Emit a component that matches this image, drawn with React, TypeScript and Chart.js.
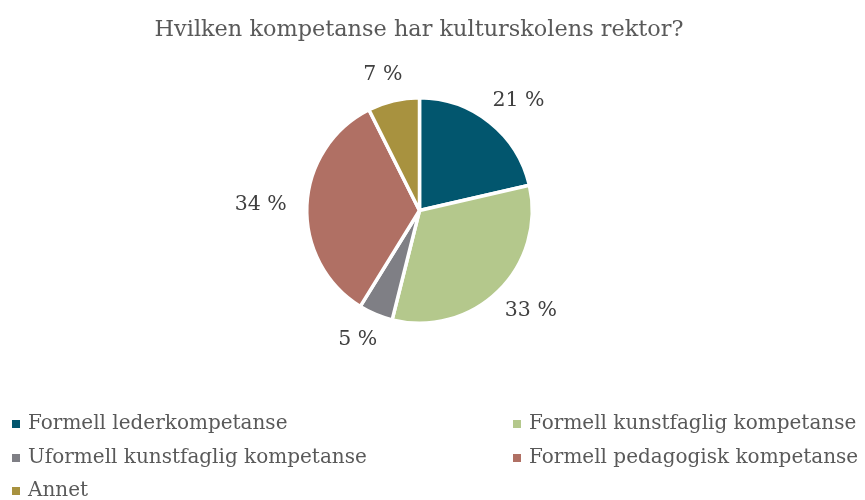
import React, { useEffect, useRef } from "react";
import { Chart, registerables } from "chart.js";

Chart.register(...registerables);

const title = "Hvilken kompetanse har kulturskolens rektor?";
const categories = [
  "Formell lederkompetanse",
  "Formell kunstfaglig kompetanse",
  "Uformell kunstfaglig kompetanse",
  "Formell pedagogisk kompetanse",
  "Annet",
];
const values = [21.4, 32.5, 4.9, 33.8, 7.4];
const colors = ["#02566E", "#B4C88C", "#7F7F85", "#B07064", "#A8923F"];

const FONT = "'DejaVu Serif', serif";

const overlayPlugin = {
  id: "overlay",
  afterDraw(chart: any) {
    const ctx = chart.ctx as CanvasRenderingContext2D;
    ctx.save();
    // title
    ctx.fillStyle = "#595959";
    ctx.font = `22.4px ${FONT}`;
    ctx.textAlign = "center";
    ctx.textBaseline = "middle";
    ctx.fillText(title, 419, 30);

    // data labels
    const meta = chart.getDatasetMeta(0);
    const total = values.reduce((a, b) => a + b, 0);
    ctx.fillStyle = "#404040";
    ctx.font = `20.5px ${FONT}`;
    meta.data.forEach((arc: any, i: number) => {
      const p = arc.getProps(["x", "y", "startAngle", "endAngle", "outerRadius"], true);
      const mid = (p.startAngle + p.endAngle) / 2;
      const x = p.x + Math.cos(mid) * p.outerRadius * 1.41;
      const y = p.y + Math.sin(mid) * p.outerRadius * 1.24;
      const pct = Math.round((values[i] / total) * 100);
      ctx.fillText(`${pct} %`, x, y);
    });

    // legend
    ctx.font = `20px ${FONT}`;
    ctx.textAlign = "left";
    const colX = [12, 513];
    const rowY = [424, 458, 491];
    categories.forEach((c, i) => {
      const col = i % 2;
      const row = Math.floor(i / 2);
      const x = colX[col];
      const y = rowY[row];
      ctx.fillStyle = colors[i];
      ctx.fillRect(x, y - 4, 8, 8);
      ctx.fillStyle = "#595959";
      ctx.fillText(c, x + 16, y);
    });
    ctx.restore();
  },
};

export default function App() {
  const ref = useRef<HTMLCanvasElement>(null);
  useEffect(() => {
    document.body.style.margin = "0";
    const chart = new Chart(ref.current!, {
      type: "pie",
      data: {
        labels: categories,
        datasets: [
          {
            data: values,
            backgroundColor: colors,
            borderColor: "#ffffff",
            borderWidth: 3.5,
          },
        ],
      },
      options: {
        responsive: false,
        animation: false,
        layout: { padding: { top: 96, bottom: 175, left: 305, right: 331 } },
        plugins: {
          legend: { display: false },
          title: { display: false },
          tooltip: { enabled: false },
        },
      },
      plugins: [overlayPlugin],
    });
    return () => chart.destroy();
  }, []);
  return (
    <div style={{ width: 865, height: 500, background: "#fff" }}>
      <canvas ref={ref} width={865} height={500} />
    </div>
  );
}
